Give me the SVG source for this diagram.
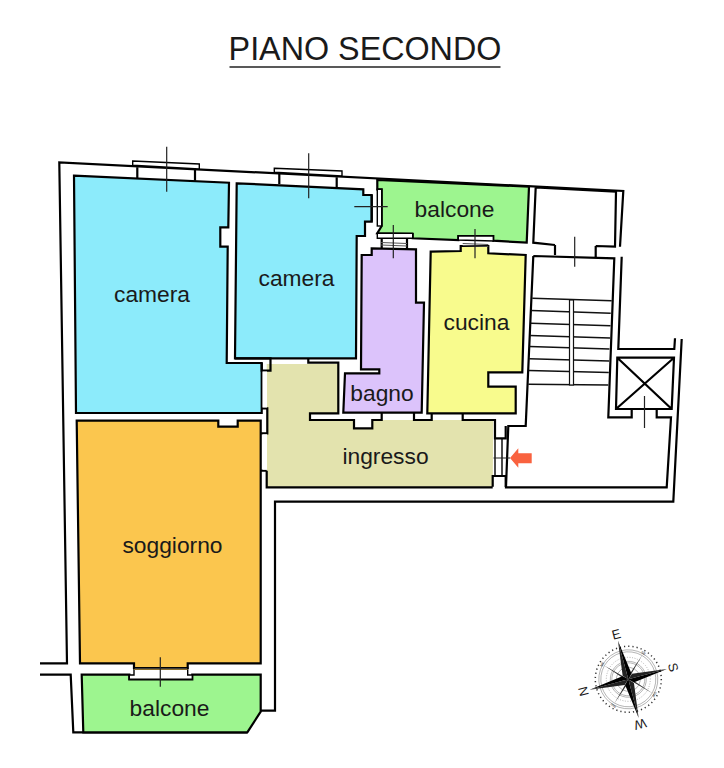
<svg xmlns="http://www.w3.org/2000/svg" width="724" height="768" viewBox="0 0 724 768">
<style>
text{font-family:"Liberation Sans",Arial,sans-serif;fill:#1a1a1a;font-size:22.800px;text-anchor:middle}
.r{stroke:#000;stroke-width:2.200;stroke-linejoin:miter}
.l{fill:none;stroke:#000;stroke-width:2.200}
.t{fill:none;stroke:#222;stroke-width:1.200}
.w{fill:#fff;stroke:#000;stroke-width:1.400}
.c{fill:none;stroke:#777;stroke-width:.5}
</style>
<rect width="724" height="768" fill="#fff"/>
<g id="title"><text x="365" y="59.500" style="font-size:32.300px">PIANO SECONDO</text><line x1="229.500" y1="67" x2="500.500" y2="67" stroke="#222" stroke-width="1.300"/></g>
<g id="walls">
<path class="l" d="M40 663.300H67L59.300 162.300 623.300 191 620 246.700M621.700 256.700 618.300 349H674.300L675 338.300M681.700 339 673.300 501.700H275V710.700H260.700M40 674.700H70.700L73.300 732.300H247.300"/>
</g>
<g id="camera1"><path class="r" fill="#8cebfb" d="M74 175.700 229 182.700 228.300 227.300H220.300V246.700H227.700L226.700 363H261.700V413H76Z"/><text x="152" y="301.500">camera</text></g>
<g id="camera2"><path class="r" fill="#8cebfb" d="M236.700 183.300 363.300 189.300V195H371.700V221.700H365V236H356.700L356 358.300H235Z"/><text x="296.500" y="286">camera</text></g>
<g id="balcone-top"><path class="r" fill="#9df58f" d="M377.300 180 529 186.700 526.700 242.700 493.300 240.700V236H458.300V240L412.700 238.300V234L377.300 233.300 381.700 226V189.300H377.300Z"/><text x="454.500" y="216.500">balcone</text></g>
<g id="bagno"><path class="r" fill="#dcc3fb" d="M361.700 255H371.700V248.300L416 249.300V302.700H424L421.700 412.700H343.300L345 373.300H379.300V369.300H361Z"/><text x="382" y="400.500">bagno</text></g>
<g id="cucina"><path class="r" fill="#f8fb8d" d="M430.700 251.700 460.700 251V246H488.300V253.300L525.700 255 522.300 372.300H488.300V386.700H515.700V413.300H427.300Z"/><text x="476.500" y="330">cucina</text></g>
<g id="ingresso"><path fill="#e3e3ae" d="M267.700 364H338.300V413.300H310V420H354V428.300H372.300V420H493.300L492.700 486.700H266.700V364Z"/>
<path class="l" d="M261.700 363V370.700H270.500V358.300H235M308.300 358.300V362.700H338.300V413.300H310V420H354V428.300H372.300V420H381.700V413M414 413V420H431.700V413M462.700 413V420H495V438.300H505.700V426M492.700 486.700V476H505.700V487M266.700 470.700V487.300H492.700M266.700 470.700H261M261 433.300H267.300V408.300H261"/>
<path d="M495 438.300V476M502 438.300V476" fill="none" stroke="#000" stroke-width="1.400"/>
<rect x="262.500" y="371.500" width="4.500" height="36" fill="#fff"/><rect x="262.500" y="434.300" width="4.500" height="35.500" fill="#fff"/>
<text x="385.500" y="464">ingresso</text></g>
<g id="soggiorno"><path class="r" fill="#fbc64e" d="M76.700 420.700H218.300V426.700H237.700V420.700H260.700V663.300H187.700V668H134V663.300H80Z"/><text x="172.500" y="553">soggiorno</text></g>
<g id="balcone-bottom"><path class="r" fill="#9df58f" d="M81.700 674.700H129.300V679.300H192.300V674.700H260.700V711.700L247.300 732.300H83.300Z"/><text x="169.500" y="716">balcone</text></g>
<g id="stairs">
<path class="l" d="M533.300 256 614.300 258.300 608.300 417.300H631.700V409M656.700 409V417.300H671L666.700 487.300H506L508.300 426H525.700L533.300 256M535.700 187.300 616 191.700 615 246.700 595.700 246M555 245 533.300 242.700 535.700 187.300M555 245V255M595.700 246V257"/>
<path d="M532.300 298.300 611.700 300.700M531.500 310.500 610.700 313.200M530.800 323.200 610.500 325.700M530 335.500 610 338M529.500 346.500 609.500 349M529.200 358.700 609.200 361M528.800 370.500 608.800 372.500M528.300 384.300 608.300 385" fill="none" stroke="#111" stroke-width="1.400"/>
<rect x="569.500" y="300" width="4" height="85" fill="#fff" stroke="#111" stroke-width="1.200"/>
<path class="l" d="M617.300 357.700H674L671.700 409H616ZM617.300 357.700 671.700 409M674 357.700 616 409"/>
</g>
<g id="windows">
<path class="w" d="M132.700 161 199.300 164V169L132.700 165.300Z"/><path class="l" d="M137.300 167.300V178.300M195 170V180.700"/>
<path class="w" d="M274.300 168.300 342 171V176L274.300 172.300Z"/><path class="l" d="M279.300 174V184M336.700 177.300V187.300"/>
<path class="l" d="M371.700 195V221.700"/><rect x="377.300" y="189.300" width="4.400" height="36.700" class="w"/>
<path class="w" d="M377.300 233.300H412.700V238.300H377.300Z"/><path class="l" d="M381.700 238V248M407 238V249"/><path d="M381 242.500 407 243.500M381 245 407 246" stroke="#555" fill="none"/>
<path class="w" d="M458.300 236H493.300V241L458.300 240Z"/><path d="M462.700 243.500 488.300 244.500M462.700 245.500 488.300 246.500" stroke="#555" fill="none"/>
<path class="w" d="M134 668H187.700V675H192.300V679.300H129.300V675H134Z"/><path d="M134 669.500H187.700" stroke="#8a6d2a"/>
<path class="t" d="M166.700 146.700V191.700M308.700 153.300V198.300M354.300 206.700H387.700M393.300 225V258.300M475 229V258.300M574.700 236.700V266.700M644.500 396V428M160.300 657.300V686.700M493.500 458H510"/>
</g>
<g id="entrance-arrow"><path fill="#f9623f" d="M510 458 518.300 448.300V453.300H531.700V463.300H518.300V467.700Z"/></g>
<g id="compass" transform="translate(628.300 679.300) rotate(-15)">
<circle r="33" fill="none" stroke="#333" stroke-width="1.500" stroke-dasharray="1.200 3"/>
<circle class="c" r="29.500"/><circle class="c" r="27.500"/><circle class="c" r="22" stroke-dasharray="1 1.500" stroke-width="1.500"/><circle class="c" r="18"/><circle class="c" r="16.500"/><circle class="c" r="12"/>
<path fill="#333" stroke="none" d="M-20-20-2.500 0 0 0ZM20-20 0-2.500 0 0ZM20 20 2.500 0 0 0ZM-20 20 0 2.500 0 0Z"/>
<path fill="#000" d="M0-40 4.500-5 0 0ZM40 0 5 4.500 0 0ZM0 40-4.500 5 0 0ZM-40 0-5-4.500 0 0Z"/>
<path fill="#222" d="M0-40-4.500-5 0 0ZM40 0 5-4.500 0 0ZM0 40 4.500 5 0 0ZM-40 0-5 4.500 0 0Z"/>
<text x="0" y="-42" style="font-size:13px">E</text>
<text x="0" y="-42" transform="rotate(90)" style="font-size:13px">S</text>
<text x="0" y="-42" transform="rotate(180)" style="font-size:13px">W</text>
<text x="0" y="-42" transform="rotate(270)" style="font-size:13px">N</text>
<text x="0" y="-29" transform="rotate(-45)" style="font-size:3.500px">NE</text>
<text x="0" y="-29" transform="rotate(45)" style="font-size:3.500px">SE</text>
<text x="0" y="-29" transform="rotate(135)" style="font-size:3.500px">SW</text>
<text x="0" y="-29" transform="rotate(225)" style="font-size:3.500px">NW</text>
</g>
</svg>
